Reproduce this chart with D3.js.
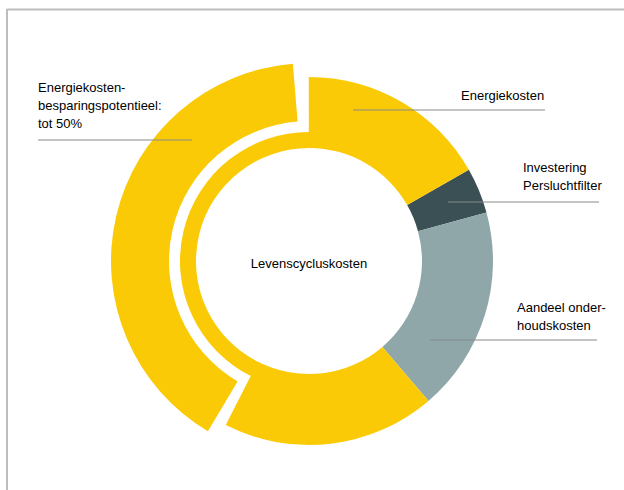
<!DOCTYPE html>
<html>
<head>
<meta charset="utf-8">
<script src="https://cdn.jsdelivr.net/npm/d3@7"></script>
<style>
  body { margin: 0; background: #fff; }
  text { font-family: "Liberation Sans", Arial, sans-serif; font-size: 13px; fill: #000; }
</style>
</head>
<body>
<svg width="624" height="490"></svg>
<script>
// Share of life cycle cost (percent), in drawing order clockwise
var categories = ['Investering Persluchtfilter', 'Aandeel onderhoudskosten', 'Energiekosten'];
var values = [4, 18, 78];
// Energy slice split: full part, part that can be saved, full part (percent of energy)
var energyParts = [24, 54.5, 21.5];

var labels = [
    {lines: ['Energiekosten-', 'besparingspotentieel:', 'tot 50%'], anchor: 'start'},
    {lines: ['Energiekosten'], anchor: 'start'},
    {lines: ['Investering', 'Persluchtfilter'], anchor: 'start'},
    {lines: ['Aandeel onder-', 'houdskosten'], anchor: 'start'}
];
var centerLabel = 'Levenscycluskosten';

var colors = {yellow: '#fbca06', dark: '#3a5055', grey: '#90a7aa'};
var sliceColors = [colors.dark, colors.grey, colors.yellow];

var svg = d3.select('svg');
var cx = 309, cy = 261;
var rIn = 113, rOut = 184, rBand = 129, rSaveIn = 140, rSaveOut = 198;
var deg = Math.PI / 180;

// frame lines (top and left)
svg.append('line').attr('x1', 7).attr('x2', 624).attr('y1', 9.5).attr('y2', 9.5)
    .attr('stroke', '#bdbdbd').attr('stroke-width', 2);
svg.append('line').attr('x1', 7).attr('x2', 7).attr('y1', 9).attr('y2', 490)
    .attr('stroke', '#bdbdbd').attr('stroke-width', 2);

var g = svg.append('g').attr('transform', 'translate(' + [cx, cy] + ')');

var pie = d3.pie().sort(null).startAngle(60.3 * deg).endAngle(420.3 * deg);
var slices = pie(values);
var arc = d3.arc();

// investering + onderhoud
slices.slice(0, 2).forEach(function(s, i) {
    g.append('path')
        .attr('d', arc({innerRadius: rIn, outerRadius: rOut, startAngle: s.startAngle, endAngle: s.endAngle}))
        .attr('fill', sliceColors[i]);
});

// energy slice split in three parts
var e = slices[2];
var eScale = d3.scaleLinear().domain([0, d3.sum(energyParts)]).range([e.startAngle, e.endAngle]);
var cum = d3.cumsum(energyParts);
var a0 = eScale(0), a1 = eScale(cum[0]), a2 = eScale(cum[1]), a3 = eScale(cum[2]);

g.append('path')
    .attr('d', arc({innerRadius: rIn, outerRadius: rOut, startAngle: a0, endAngle: a1}))
    .attr('fill', colors.yellow);
g.append('path')
    .attr('d', arc({innerRadius: rIn, outerRadius: rOut, startAngle: a2, endAngle: a3}))
    .attr('fill', colors.yellow);
g.append('path')
    .attr('d', arc({innerRadius: rIn, outerRadius: rBand, startAngle: a1 - 0.3 * deg, endAngle: a2 + 0.3 * deg}))
    .attr('fill', colors.yellow);
// savings band, pushed outward
g.append('path')
    .attr('d', arc({innerRadius: rSaveIn, outerRadius: rSaveOut, startAngle: a1 + 3.8 * deg, endAngle: a2 - 4.6 * deg}))
    .attr('fill', colors.yellow);

// centre label
svg.append('text').attr('x', cx).attr('y', 268).attr('text-anchor', 'middle').text(centerLabel);

// callouts
var callouts = [
    {x: 38, y: 92, lx1: 38, lx2: 192, ly: 140},
    {x: 461, y: 100, lx1: 353, lx2: 545, ly: 110},
    {x: 523, y: 172, lx1: 448, lx2: 599, ly: 202},
    {x: 517, y: 312, lx1: 430, lx2: 597, ly: 340}
];
callouts.forEach(function(c, i) {
    svg.append('line')
        .attr('x1', c.lx1).attr('x2', c.lx2).attr('y1', c.ly).attr('y2', c.ly)
        .attr('stroke', '#8a8a8a').attr('stroke-width', 1.2);
    var t = svg.append('text').attr('x', c.x).attr('y', c.y).attr('text-anchor', labels[i].anchor);
    labels[i].lines.forEach(function(l, j) {
        t.append('tspan').attr('x', c.x).attr('dy', j === 0 ? 0 : 18).text(l);
    });
});
</script>
</body>
</html>
